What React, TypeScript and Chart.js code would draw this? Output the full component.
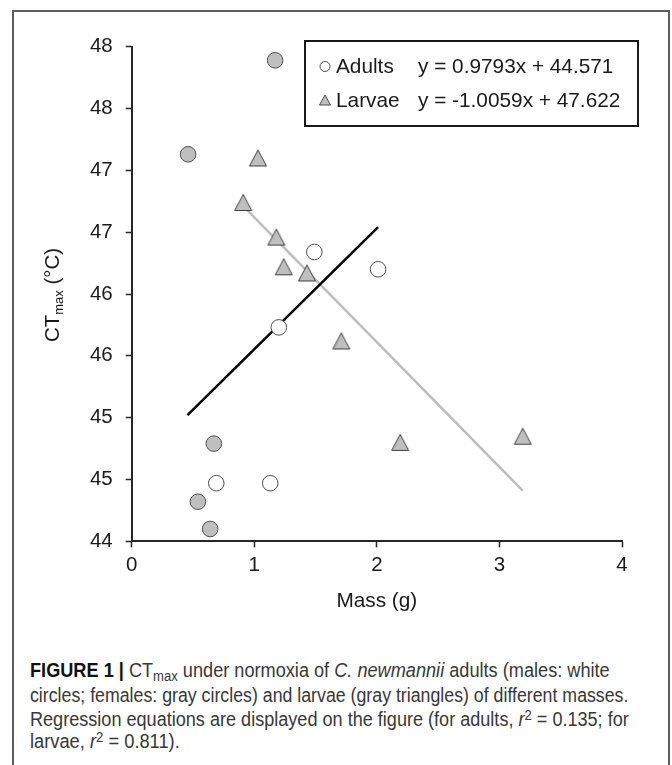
import React, { useEffect, useLayoutEffect, useRef } from 'react';
import { Chart, registerables } from 'chart.js';

Chart.register(...registerables);

// ---- data ----
const malesX = [1.49, 2.01, 1.2, 0.69, 1.13];
const malesY = [46.34, 46.2, 45.73, 44.47, 44.47];
const femalesX = [1.17, 0.46, 0.67, 0.54, 0.64];
const femalesY = [47.89, 47.13, 44.79, 44.32, 44.1];
const larvaeX = [1.03, 0.91, 1.18, 1.24, 1.43, 1.71, 2.19, 3.19];
const larvaeY = [47.1, 46.74, 46.46, 46.22, 46.17, 45.62, 44.8, 44.85];
const adultsFitX = [0.455, 2.01];
const adultsFitY = [45.02, 46.54];
const larvaeFitX = [0.93, 3.19];
const larvaeFitY = [46.69, 44.41];
const xTickLabels = ['0', '1', '2', '3', '4'];
const yTickLabels = ['44', '45', '45', '46', '46', '47', '47', '48', '48'];
const legendLabels = ['Adults', 'Larvae'];
const legendEquations = ['y = 0.9793x + 44.571', 'y = -1.0059x + 47.622'];
const xTitle = 'Mass (g)';
const yTitleMain = 'CT';
const yTitleSub = 'max';
const yTitleRest = ' (°C)';

const FONT = '"Liberation Sans", Arial, Helvetica, sans-serif';
const INK = '#1a1a1a';
const GRAY_FILL = '#bfbfbf';
const MARK_EDGE = '#4d4d4d';

function makeTriangle(w: number, h: number, fill: string, stroke: string) {
  const c = document.createElement('canvas');
  const pad = 1.5;
  c.width = Math.ceil(w + pad * 2);
  c.height = Math.ceil(h + pad * 2);
  const ctx = c.getContext('2d')!;
  const cx = c.width / 2;
  const cy = c.height / 2;
  ctx.beginPath();
  ctx.moveTo(cx, cy - h / 2);
  ctx.lineTo(cx + w / 2, cy + h / 2);
  ctx.lineTo(cx - w / 2, cy + h / 2);
  ctx.closePath();
  ctx.fillStyle = fill;
  ctx.fill();
  ctx.lineWidth = 1;
  ctx.strokeStyle = stroke;
  ctx.stroke();
  return c;
}

const overlayPlugin = {
  id: 'overlay',
  afterDraw(chart: any) {
    const ctx = chart.ctx as CanvasRenderingContext2D;
    const area = chart.chartArea;
    ctx.save();

    // legend box
    const bx = 305, by = 41, bw = 333, bh = 85;
    ctx.lineWidth = 2;
    ctx.strokeStyle = INK;
    ctx.strokeRect(bx, by, bw, bh);
    const rows = [66.5, 100];
    ctx.font = `20.8px ${FONT}`;
    ctx.fillStyle = INK;
    ctx.textBaseline = 'middle';
    ctx.textAlign = 'left';
    // circle marker
    ctx.beginPath();
    ctx.arc(325, rows[0], 5, 0, Math.PI * 2);
    ctx.fillStyle = '#ffffff';
    ctx.fill();
    ctx.lineWidth = 1;
    ctx.strokeStyle = MARK_EDGE;
    ctx.stroke();
    // triangle marker
    ctx.beginPath();
    ctx.moveTo(325, rows[1] - 5);
    ctx.lineTo(330.5, rows[1] + 5);
    ctx.lineTo(319.5, rows[1] + 5);
    ctx.closePath();
    ctx.fillStyle = GRAY_FILL;
    ctx.fill();
    ctx.stroke();
    ctx.fillStyle = INK;
    legendLabels.forEach((t, i) => ctx.fillText(t, 336, rows[i] + 1));
    legendEquations.forEach((t, i) => ctx.fillText(t, 418, rows[i] + 1));

    // x title
    ctx.textAlign = 'center';
    ctx.fillText(xTitle, (area.left + area.right) / 2, 601);

    // y title with subscript
    const big = `20.5px ${FONT}`;
    const small = `13px ${FONT}`;
    ctx.font = big;
    const w1 = ctx.measureText(yTitleMain).width;
    const w3 = ctx.measureText(yTitleRest).width;
    ctx.font = small;
    const w2 = ctx.measureText(yTitleSub).width;
    const total = w1 + w2 + w3;
    ctx.translate(51.7, 295);
    ctx.rotate(-Math.PI / 2);
    ctx.textAlign = 'left';
    ctx.textBaseline = 'alphabetic';
    let x0 = -total / 2;
    ctx.font = big;
    ctx.fillText(yTitleMain, x0, 7);
    x0 += w1;
    ctx.font = small;
    ctx.fillText(yTitleSub, x0, 11.6);
    x0 += w2;
    ctx.font = big;
    ctx.fillText(yTitleRest, x0, 7);
    ctx.restore();
  },
};

function ChartCanvas() {
  const ref = useRef<HTMLCanvasElement | null>(null);
  useEffect(() => {
    if (!ref.current) return;
    const tri = makeTriangle(17, 16, GRAY_FILL, '#404040');
    const pts = (xs: number[], ys: number[]) => xs.map((x, i) => ({ x, y: ys[i] }));
    const chart = new Chart(ref.current, {
      type: 'scatter',
      data: {
        datasets: [
          {
            label: 'Males',
            data: pts(malesX, malesY),
            pointStyle: 'circle',
            pointRadius: 7.8,
            backgroundColor: '#ffffff',
            borderColor: MARK_EDGE,
            borderWidth: 1,
          },
          {
            label: 'Females',
            data: pts(femalesX, femalesY),
            pointStyle: 'circle',
            pointRadius: 7.8,
            backgroundColor: GRAY_FILL,
            borderColor: MARK_EDGE,
            borderWidth: 1,
          },
          {
            label: 'Larvae',
            data: pts(larvaeX, larvaeY),
            pointStyle: tri as any,
            pointRadius: 9,
            backgroundColor: GRAY_FILL,
            borderColor: '#404040',
          },
          {
            label: 'Adults fit',
            data: pts(adultsFitX, adultsFitY),
            showLine: true,
            pointRadius: 0,
            borderColor: '#000000',
            borderWidth: 2.5,
          },
          {
            label: 'Larvae fit',
            data: pts(larvaeFitX, larvaeFitY),
            showLine: true,
            pointRadius: 0,
            borderColor: '#bdbdbd',
            borderWidth: 2.5,
          },
        ],
      } as any,
      options: {
        animation: false,
        responsive: false,
        clip: false as any,
        layout: { padding: { top: 46.7, right: 50, bottom: 0, left: 0 } },
        plugins: { legend: { display: false }, tooltip: { enabled: false }, title: { display: false } },
        scales: {
          x: {
            type: 'linear',
            min: 0,
            max: 4,
            ticks: {
              stepSize: 1,
              autoSkip: false,
              maxRotation: 0,
              padding: 6,
              color: INK,
              font: { family: FONT, size: 20.5 },
              callback: (_v: any, i: number) => xTickLabels[i],
            },
            grid: { drawOnChartArea: false, drawTicks: true, tickLength: 6, tickColor: '#262626', tickWidth: 1.5 },
            border: { display: true, color: '#262626', width: 2 },
            afterFit: (s: any) => {
              s.height = 98.7;
            },
          },
          y: {
            type: 'linear',
            min: 44,
            max: 48,
            ticks: {
              stepSize: 0.5,
              autoSkip: false,
              padding: 13,
              color: INK,
              font: { family: FONT, size: 20.5 },
              callback: (_v: any, i: number) => yTickLabels[i],
            },
            grid: { drawOnChartArea: false, drawTicks: true, tickLength: 6, tickColor: '#262626', tickWidth: 1.5 },
            border: { display: true, color: '#262626', width: 2 },
            afterFit: (s: any) => {
              s.width = 131.7;
            },
          },
        },
      } as any,
      plugins: [overlayPlugin],
    });
    return () => chart.destroy();
  }, []);
  return (
    <canvas
      ref={ref}
      width={672}
      height={640}
      style={{ position: 'absolute', left: 0, top: 0, width: 672, height: 640 }}
    />
  );
}

const captionTargets = [580, 598, 599, 150];
const captionTops = [658, 683, 707, 729];

function Caption() {
  const refs = useRef<(HTMLDivElement | null)[]>([]);
  useLayoutEffect(() => {
    refs.current.forEach((el, i) => {
      if (!el) return;
      el.style.transform = 'none';
      const w = el.scrollWidth;
      if (w > 0) el.style.transform = `scaleX(${captionTargets[i] / w})`;
    });
  }, []);
  const sub: React.CSSProperties = { fontSize: '0.72em', verticalAlign: '-0.25em', lineHeight: 0 };
  const sup: React.CSSProperties = { fontSize: '0.72em', verticalAlign: '0.45em', lineHeight: 0 };
  const lines: React.ReactNode[] = [
    <>
      <b style={{ color: '#111' }}>FIGURE 1 |</b> CT<span style={sub}>max</span> under normoxia of <i>C. newmannii</i>{' '}
      adults (males: white
    </>,
    <>circles; females: gray circles) and larvae (gray triangles) of different masses.</>,
    <>
      Regression equations are displayed on the figure (for adults, <i>r</i>
      <span style={sup}>2</span> = 0.135; for
    </>,
    <>
      larvae, <i>r</i>
      <span style={sup}>2</span> = 0.811).
    </>,
  ];
  return (
    <>
      {lines.map((content, i) => (
        <div
          key={i}
          ref={(el) => {
            refs.current[i] = el;
          }}
          style={{
            position: 'absolute',
            left: 30,
            top: captionTops[i],
            whiteSpace: 'nowrap',
            display: 'inline-block',
            fontFamily: FONT,
            fontSize: 19.5,
            lineHeight: '24px',
            color: '#383838',
            transformOrigin: '0 0',
          }}
        >
          {content}
        </div>
      ))}
    </>
  );
}

export default function App() {
  return (
    <div
      style={{
        position: 'fixed',
        left: 0,
        top: 0,
        width: 672,
        height: 765,
        background: '#ffffff',
        overflow: 'hidden',
      }}
    >
      <div
        style={{
          position: 'absolute',
          left: 12,
          top: 10,
          width: 658,
          height: 800,
          border: '2px solid #5e5e5e',
          boxSizing: 'border-box',
        }}
      />
      <ChartCanvas />
      <Caption />
    </div>
  );
}
